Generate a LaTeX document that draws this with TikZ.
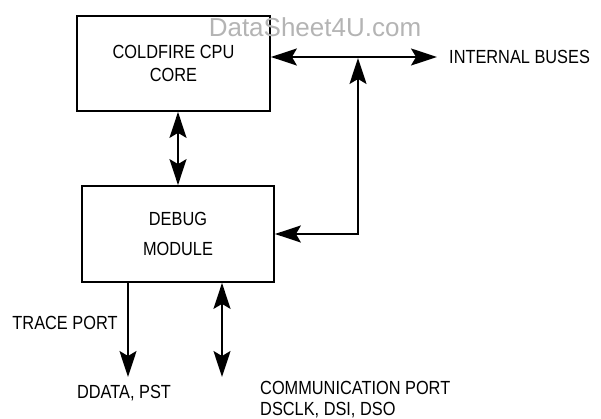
\documentclass[tikz,border=0pt]{standalone}
\usepackage{fontspec}
\setmainfont[FakeStretch=0.86]{Liberation Sans}
\newfontfamily\markfont{Liberation Sans}
\usetikzlibrary{arrows.meta,positioning}
\definecolor{Mark}{HTML}{B4B4B4}

\tikzset{
  blockbox/.style={draw,line width=1.8pt,minimum width=193pt,minimum height=95pt,
    align=center,inner sep=0pt},
  bus/.style={line width=1.8pt,{Stealth[length=26pt,width=17pt,inset=5pt]}-{Stealth[length=26pt,width=17pt,inset=5pt]}},
  outbus/.style={line width=1.8pt,-{Stealth[length=26pt,width=17pt,inset=5pt]}},
  lbl/.style={inner sep=0pt}
}

\begin{document}
\begin{tikzpicture}[x=1pt,y=-1pt,font=\fontsize{19}{21}\selectfont]
        \useasboundingbox (0,0) rectangle (601,419);

        \node[blockbox] (cpu) at (173.5,63.5)
          {COLDFIRE CPU\\[2pt]CORE};
        \node[blockbox,minimum width=192pt,minimum height=96pt] (dbg) at (178,234)
          {DEBUG\\[9pt]MODULE};

        \node[Mark,font=\markfont\fontsize{26}{28}\selectfont,inner sep=0pt] (mark) at (315,27)
          {DataSheet4U.com};

        \coordinate (busend) at (437,57);
        \coordinate (jn) at (358,58);
        \coordinate (tr) at (128,377);
        \coordinate (cm) at (222,377);

        \draw[bus] (cpu.east |- busend) -- (busend);
        \draw[bus] (dbg.east) -| (jn);
        \draw[bus] (dbg.north) -- (dbg.north |- cpu.south);
        \draw[outbus] (tr |- dbg.south) -- (tr);
        \draw[bus] (cm |- dbg.south) -- (cm);

        \node[lbl,anchor=west] (ib) at (449,57) {INTERNAL BUSES};
        \node[lbl] (trace) at (65,323) {TRACE PORT};
        \node[lbl] (ddata) at (124,393) {DDATA, PST};
        \node[lbl,anchor=west] (comm) at (260,388) {COMMUNICATION PORT};
        \node[lbl,anchor=west] (dsclk) at (260,410) {DSCLK, DSI, DSO};
      \end{tikzpicture}
\end{document}
